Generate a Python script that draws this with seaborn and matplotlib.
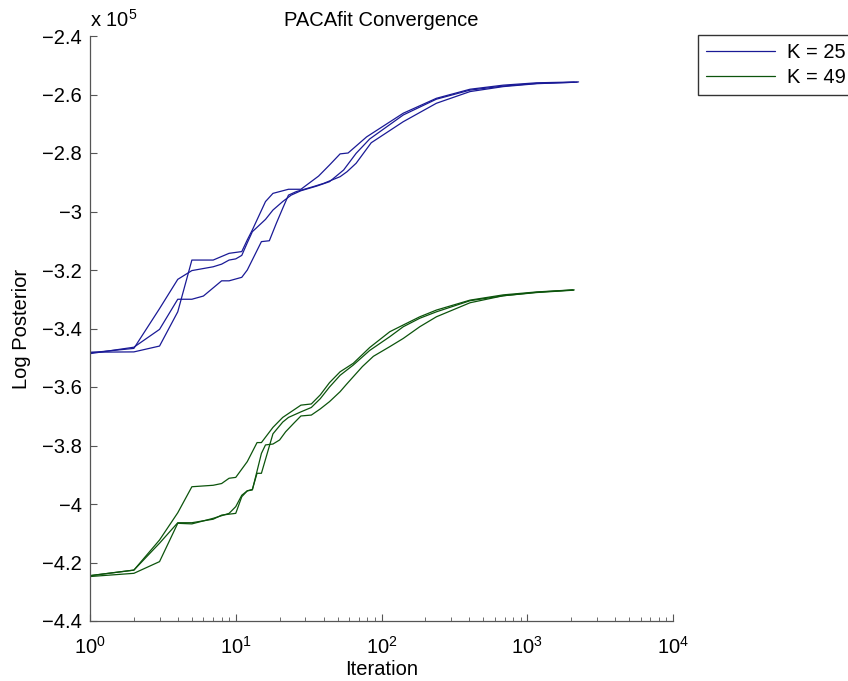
import numpy as np
import pandas as pd
import matplotlib
matplotlib.use("Agg")
import matplotlib.pyplot as plt
import seaborn as sns
from matplotlib.ticker import FuncFormatter, LogLocator, NullFormatter
from matplotlib.lines import Line2D

# ---------------- data (log posterior in units of 1e5) ----------------
k25_run1_iter = [1, 2, 3, 4, 5, 7, 8, 9, 10, 11, 12, 13, 16, 18, 21, 24, 28, 36, 44, 55, 67, 83, 141, 238, 405, 685, 1162, 2200]
k25_run1_val = [-3.483, -3.468, -3.332, -3.232, -3.202, -3.189, -3.180, -3.166, -3.162, -3.150, -3.107, -3.069,
                -3.027, -2.995, -2.966, -2.944, -2.929, -2.913, -2.898, -2.858, -2.801, -2.752, -2.670, -2.616,
                -2.585, -2.571, -2.562, -2.558]

k25_run2_iter = [1, 2, 3, 4, 5, 6, 8, 9, 11, 12, 15, 17, 19, 21, 23, 26, 34, 40, 52, 58, 67, 85, 141, 238, 405, 685, 1162, 2100]
k25_run2_val = [-3.486, -3.464, -3.403, -3.300, -3.300, -3.289, -3.237, -3.237, -3.225, -3.200, -3.103, -3.100,
                -3.040, -2.989, -2.944, -2.932, -2.915, -2.904, -2.881, -2.864, -2.835, -2.765, -2.693, -2.630,
                -2.590, -2.573, -2.563, -2.558]

k25_run3_iter = [1, 2, 3, 4, 5, 7, 9, 11, 12, 13, 16, 18, 23, 28, 37, 44, 52, 59, 79, 141, 238, 405, 685, 1162, 2250]
k25_run3_val = [-3.481, -3.480, -3.460, -3.343, -3.166, -3.166, -3.143, -3.137, -3.097, -3.063, -2.966, -2.938,
                -2.924, -2.924, -2.879, -2.841, -2.803, -2.800, -2.745, -2.664, -2.613, -2.582, -2.568, -2.560,
                -2.557]

k49_run1_iter = [1, 2, 3, 4, 5, 7, 8, 9, 10, 12, 14, 15, 18, 21, 28, 33, 38, 44, 52, 64, 83, 114, 141, 183, 238, 405, 685, 1162, 2050]
k49_run1_val = [-4.245, -4.226, -4.123, -4.030, -3.941, -3.936, -3.930, -3.912, -3.909, -3.855, -3.790, -3.790,
                -3.738, -3.704, -3.662, -3.658, -3.627, -3.585, -3.548, -3.519, -3.465, -3.411, -3.388, -3.360,
                -3.337, -3.303, -3.285, -3.275, -3.268]

k49_run2_iter = [1, 2, 3, 4, 5, 7, 8, 10, 11, 12, 13, 14, 15, 18, 21, 23, 28, 33, 38, 44, 52, 64, 83, 114, 141, 183, 238, 405, 685, 1162, 2100]
k49_run2_val = [-4.245, -4.226, -4.134, -4.064, -4.064, -4.052, -4.038, -4.032, -3.975, -3.955, -3.950, -3.895,
                -3.895, -3.760, -3.720, -3.704, -3.685, -3.670, -3.640, -3.600, -3.560, -3.525, -3.475, -3.428,
                -3.394, -3.365, -3.343, -3.305, -3.288, -3.276, -3.268]

k49_run3_iter = [1, 2, 3, 4, 5, 7, 8, 9, 10, 11, 12, 13, 15, 16, 18, 20, 22, 25, 28, 33, 38, 44, 52, 57, 64, 74, 88, 114, 141, 183, 238, 405, 685, 1162, 2080]
k49_run3_val = [-4.248, -4.237, -4.197, -4.066, -4.068, -4.049, -4.040, -4.032, -4.009, -3.970, -3.955, -3.952,
                -3.827, -3.798, -3.795, -3.781, -3.753, -3.724, -3.699, -3.696, -3.675, -3.650, -3.616, -3.593,
                -3.565, -3.530, -3.495, -3.462, -3.434, -3.394, -3.360, -3.312, -3.288, -3.277, -3.269]

runs = [
    ("K = 25", "r1", k25_run1_iter, k25_run1_val),
    ("K = 25", "r2", k25_run2_iter, k25_run2_val),
    ("K = 25", "r3", k25_run3_iter, k25_run3_val),
    ("K = 49", "r4", k49_run1_iter, k49_run1_val),
    ("K = 49", "r5", k49_run2_iter, k49_run2_val),
    ("K = 49", "r6", k49_run3_iter, k49_run3_val),
]
labels = ["K = 25", "K = 49"]
colors = {"K = 25": "#1a1a96", "K = 49": "#0c540c"}

frames = []
for k, r, it, v in runs:
    frames.append(pd.DataFrame({"Iteration": it, "LogPost": np.array(v) * 1e5, "K": k, "run": r}))
df = pd.concat(frames, ignore_index=True)

# ---------------- plot ----------------
sns.set_theme(style="ticks")
plt.rcParams["font.family"] = ["Liberation Sans", "DejaVu Sans"]
plt.rcParams["mathtext.fontset"] = "custom"
plt.rcParams["mathtext.rm"] = "Liberation Sans"
plt.rcParams["mathtext.it"] = "Liberation Sans:italic"
plt.rcParams["mathtext.default"] = "regular"
plt.rcParams["text.color"] = "black"
plt.rcParams["axes.labelcolor"] = "black"
plt.rcParams["axes.titlecolor"] = "black"

fs = 14.5
fig = plt.figure(figsize=(8.48, 6.81), dpi=100)
ax = fig.add_axes([90 / 848, 1 - 621 / 681, (673 - 90) / 848, (621 - 36) / 681])

sns.lineplot(data=df, x="Iteration", y="LogPost", hue="K", units="run", estimator=None,
             palette=colors, linewidth=0.9, legend=False, sort=False, ax=ax)

ax.set_xscale("log")
ax.set_xlim(1, 1e4)
ax.set_ylim(-4.4e5, -2.4e5)
ax.set_yticks(np.arange(-4.4e5, -2.39e5, 0.2e5))
ax.yaxis.set_major_formatter(FuncFormatter(lambda v, p: ("%g" % round(v / 1e5, 1)).replace("-", "\u2212")))
ax.xaxis.set_major_locator(LogLocator(base=10, numticks=10))
ax.xaxis.set_minor_locator(LogLocator(base=10, subs=np.arange(2, 10), numticks=50))
ax.xaxis.set_minor_formatter(NullFormatter())

for s in ["top", "right"]:
    ax.spines[s].set_visible(False)
for s in ["left", "bottom"]:
    ax.spines[s].set_color("#555555")
    ax.spines[s].set_linewidth(0.9)

ax.tick_params(axis="both", which="major", direction="in", length=5, width=0.8,
               color="#555555", labelsize=fs, labelcolor="black")
ax.tick_params(axis="y", which="major", pad=6)
ax.tick_params(axis="x", which="major", pad=11)
ax.tick_params(axis="x", which="minor", direction="in", length=3, width=0.6, color="#555555")
ax.tick_params(axis="y", which="minor", left=False)

ax.set_xlabel("Iteration", fontsize=fs, labelpad=1)
ax.set_ylabel("Log Posterior", fontsize=fs, labelpad=8)
ax.set_title("PACAfit Convergence", fontsize=fs, pad=7)

fig.text(90 / 848, 1 - 27 / 681, r"x 10$^{5}$", fontsize=fs, ha="left", va="baseline")

handles = [Line2D([0], [0], color=colors[l], lw=0.9) for l in labels]
leg = ax.legend(handles, labels, loc="upper left", bbox_to_anchor=(698 / 848, 1 - 35 / 681),
                bbox_transform=fig.transFigure, borderaxespad=0, frameon=True, fancybox=False,
                edgecolor="black", fontsize=fs, handlelength=3.4, handletextpad=0.6,
                borderpad=0.4, labelspacing=0.3)
leg.get_frame().set_linewidth(1.0)

fig.savefig("out.png", dpi=100)
